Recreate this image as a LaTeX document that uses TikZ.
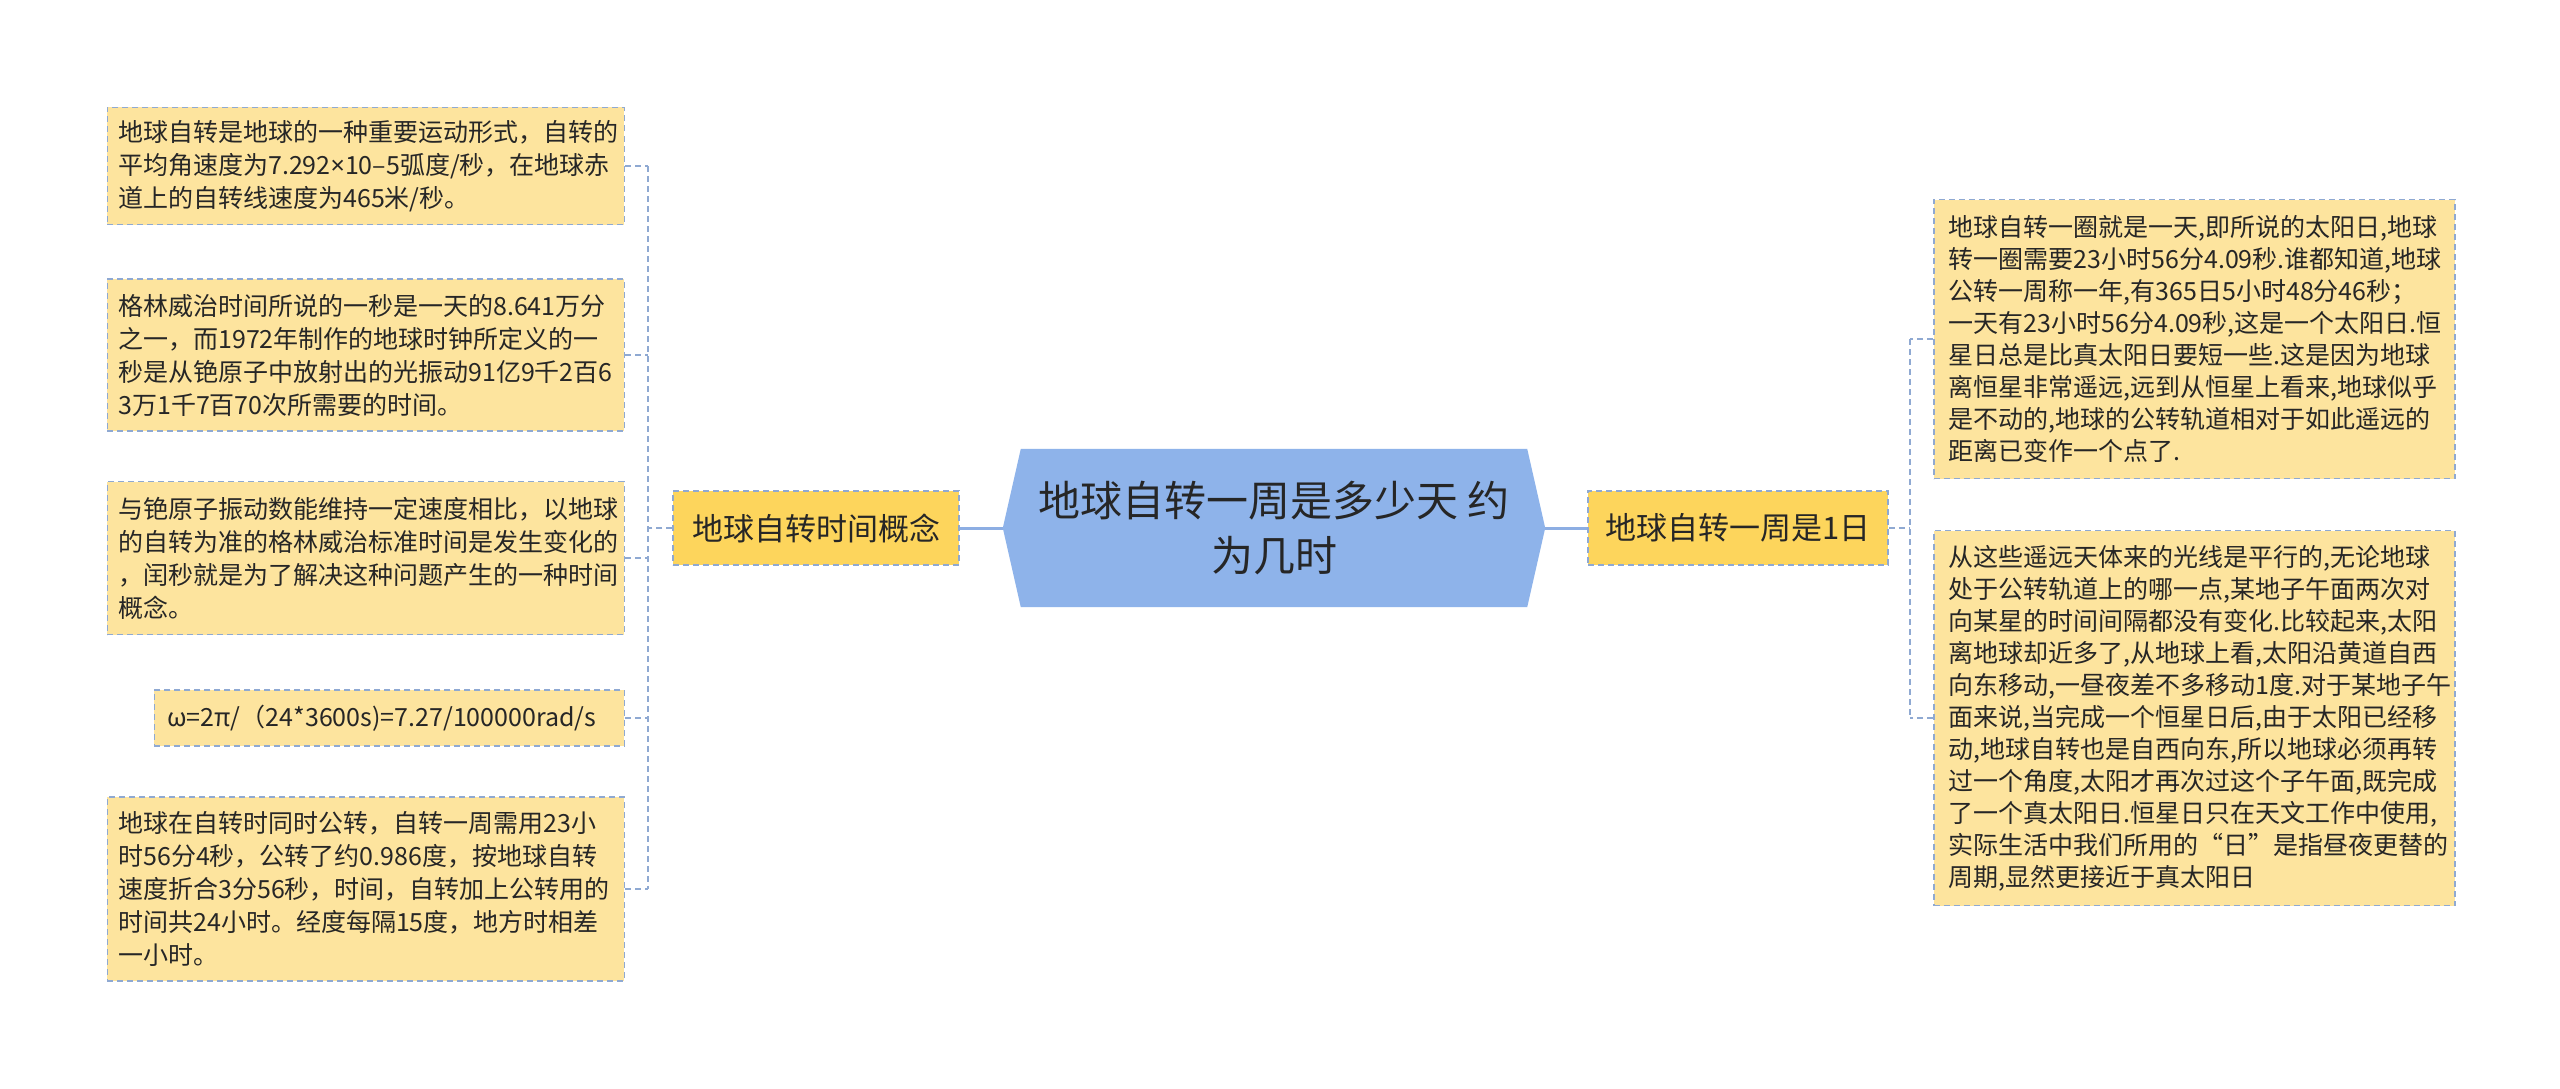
\documentclass[tikz,border=0pt]{standalone}
\usepackage{fontspec}
\setmainfont{Noto Sans CJK SC}
\newfontfamily\latinsans{Noto Sans}
\exhyphenpenalty=10000
\hyphenpenalty=10000
\usetikzlibrary{backgrounds}
\definecolor{rootblue}{HTML}{8EB3EA}
\definecolor{linkblue}{HTML}{8DAEE3}
\definecolor{dashblue}{HTML}{8FA9D2}
\definecolor{branchgold}{HTML}{FDD55C}
\definecolor{leafyellow}{HTML}{FDE49E}
\definecolor{inkgray}{HTML}{262626}
\tikzset{
  leafbox/.style={draw=dashblue, dash pattern=on 6pt off 4pt, line width=1.5pt, fill=leafyellow, text=inkgray, inner ysep=0pt, align=left},
  leftleaf/.style={leafbox, anchor=east, inner xsep=11pt, text width=495pt, font=\fontsize{25}{33}\selectfont},
  rightleaf/.style={leafbox, anchor=west, inner xsep=15pt, text width=491pt, font=\fontsize{25}{32}\selectfont},
  branchbox/.style={draw=dashblue, dash pattern=on 6pt off 4pt, line width=1.5pt, fill=branchgold, text=inkgray, minimum height=74pt, inner xsep=0pt, font=\fontsize{31}{38}\selectfont},
  rootbox/.style={minimum width=542pt, minimum height=158pt, align=center, text=inkgray, font=\fontsize{42}{55}\selectfont},
  spine/.style={draw=dashblue, dash pattern=on 6pt off 4pt, line width=1.5pt},
  link/.style={draw=linkblue, line width=3pt},
}
\begin{document}
\begin{tikzpicture}[x=1pt, y=-1pt]
  \useasboundingbox (0,0) rectangle (2560,1089);
  % centre and branches
  \node[rootbox] (root) at (1274,528) {地球自转一周是多少天 约\\为几时};
  \node[branchbox, minimum width=286pt] (lbranch) at (816,528) {地球自转时间概念};
  \node[branchbox, minimum width=300pt] (rbranch) at (1738,528) {地球自转一周是1日};
  % left leaves
  \node[leftleaf, minimum height=117pt] (l1) at (625,166) {地球自转是地球的一种重要运动形式，自转的\\平均角速度为7.292{\latinsans ×}10–5弧度/秒，在地球赤\\道上的自转线速度为465米/秒。};
  \node[leftleaf, minimum height=152pt] (l2) at (625,355) {格林威治时间所说的一秒是一天的8.641万分\\之一，而1972年制作的地球时钟所定义的一\\秒是从铯原子中放射出的光振动91亿9千2百6\\3万1千7百70次所需要的时间。};
  \node[leftleaf, minimum height=153pt] (l3) at (625,558) {与铯原子振动数能维持一定速度相比，以地球\\的自转为准的格林威治标准时间是发生变化的\\，闰秒就是为了解决这种问题产生的一种时间\\概念。};
  \node[leftleaf, text width=444pt, inner xsep=13pt, minimum height=56pt] (l4) at (625,718) {ω=2π/（24*3600s)=7.27/100000rad/s};
  \node[leftleaf, minimum height=184pt] (l5) at (625,889) {地球在自转时同时公转，自转一周需用23小\\时56分4秒，公转了约0.986度，按地球自转\\速度折合3分56秒，时间，自转加上公转用的\\时间共24小时。经度每隔15度，地方时相差\\一小时。};
  % right leaves
  \node[rightleaf, minimum height=279pt] (r1) at (1933,339) {地球自转一圈就是一天,即所说的太阳日,地球\\转一圈需要23小时56分4.09秒.谁都知道,地球\\公转一周称一年,有365日5小时48分46秒；\\一天有23小时56分4.09秒,这是一个太阳日.恒\\星日总是比真太阳日要短一些.这是因为地球\\离恒星非常遥远,远到从恒星上看来,地球似乎\\是不动的,地球的公转轨道相对于如此遥远的\\距离已变作一个点了.};
  \node[rightleaf, minimum height=375pt] (r2) at (1933,718) {从这些遥远天体来的光线是平行的,无论地球\\处于公转轨道上的哪一点,某地子午面两次对\\向某星的时间间隔都没有变化.比较起来,太阳\\离地球却近多了,从地球上看,太阳沿黄道自西\\向东移动,一昼夜差不多移动1度.对于某地子午\\面来说,当完成一个恒星日后,由于太阳已经移\\动,地球自转也是自西向东,所以地球必须再转\\过一个角度,太阳才再次过这个子午面,既完成\\了一个真太阳日.恒星日只在天文工作中使用,\\实际生活中我们所用的“日”是指昼夜更替的\\周期,显然更接近于真太阳日};
  % connectors
  \coordinate (lspine) at (648,0);
  \coordinate (rspine) at (1910,0);
  \draw[link] (root.west) -- (lbranch.east);
  \draw[link] (root.east) -- (rbranch.west);
  \draw[spine] (lbranch.west) -- (lbranch.west -| lspine);
  \draw[spine] (l1.east -| lspine) -- (l5.east -| lspine);
  \foreach \leaf in {l1,l2,l3,l4,l5}
    \draw[spine] (\leaf.east) -- (\leaf.east -| lspine);
  \draw[spine] (rbranch.east) -- (rbranch.east -| rspine);
  \draw[spine] (r1.west -| rspine) -- (r2.west -| rspine);
  \foreach \leaf in {r1,r2}
    \draw[spine] (\leaf.west) -- (\leaf.west -| rspine);
  \begin{scope}[on background layer]
    \fill[white] (0,0) rectangle (2560,1089);
    \fill[rootblue] ([xshift=18pt]root.north west) -- ([xshift=-18pt]root.north east) -- (root.east)
      -- ([xshift=-18pt]root.south east) -- ([xshift=18pt]root.south west) -- (root.west) -- cycle;
  \end{scope}
\end{tikzpicture}
\end{document}
